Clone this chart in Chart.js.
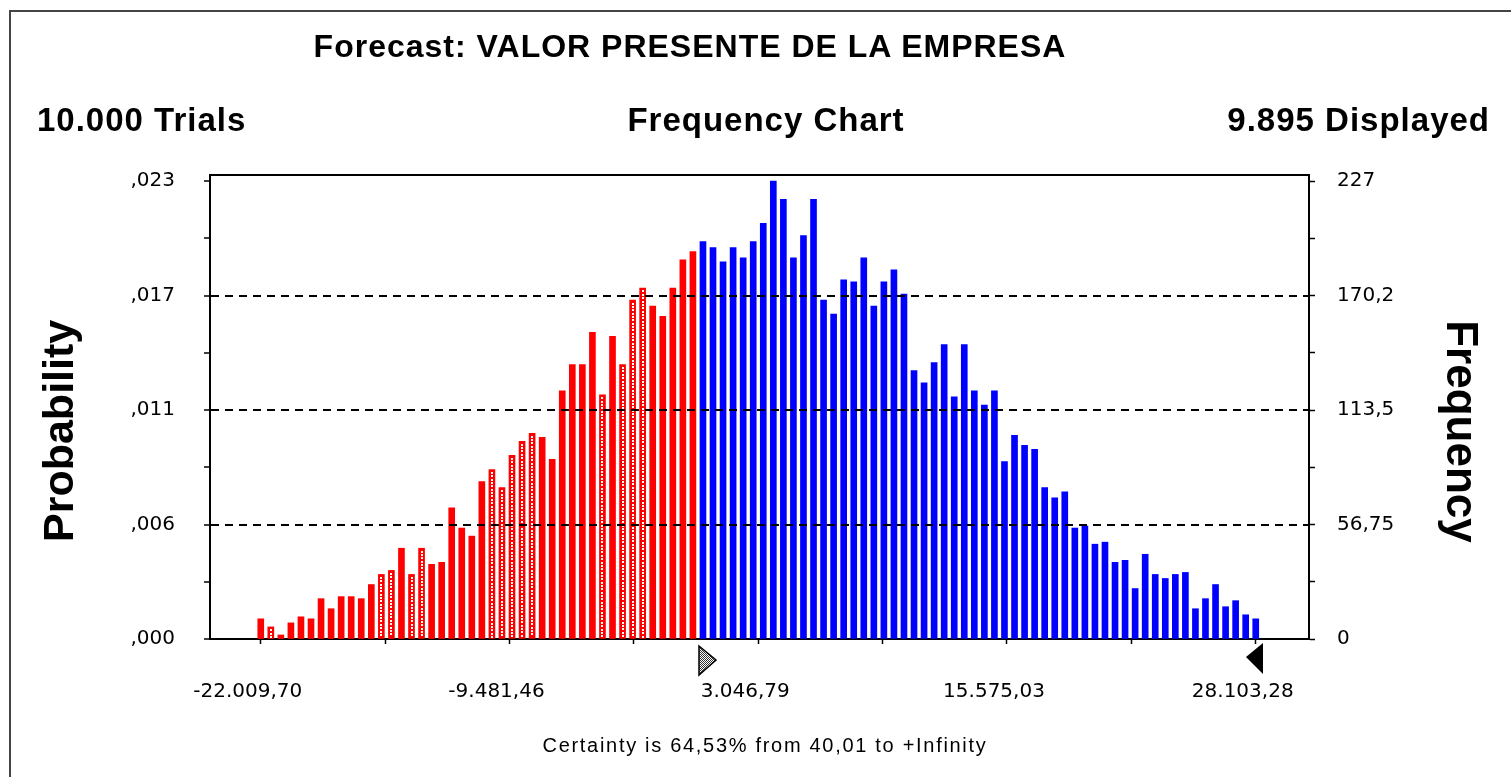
<!DOCTYPE html>
<html>
<head>
<meta charset="utf-8">
<title>Forecast: VALOR PRESENTE DE LA EMPRESA</title>
<script src="https://cdn.jsdelivr.net/npm/chart.js@4.4.1/dist/chart.umd.min.js"></script>
<style>
  body { margin: 0; background: #fff; width: 1511px; height: 777px; overflow: hidden; position: relative;
         font-family: "Liberation Sans", Arial, sans-serif; color: #000; }
  #frame { position: absolute; left: 9px; top: 10px; right: -10px; bottom: -10px;
           border-top: 2px solid #444; border-left: 2px solid #444; }
  .txt { position: absolute; white-space: nowrap; line-height: 1; font-weight: bold; font-size: 33px; letter-spacing: 1px; }
  #title { left: 690px; top: 46px; font-size: 32px; transform: translate(-50%, -50%); }
  #trials { left: 37px; top: 119px; transform: translateY(-50%); }
  #kind { left: 766px; top: 119px; transform: translate(-50%, -50%); }
  #shown { right: 21px; top: 119px; transform: translateY(-50%); }
  #cert { left: 765px; top: 745px; font-weight: normal; font-size: 20px; letter-spacing: 1.7px;
          transform: translate(-50%, -50%); }
  canvas { position: absolute; left: 0; top: 0; }
</style>
</head>
<body>
<div id="frame"></div>
<canvas id="chart" width="1511" height="777"></canvas>
<div class="txt" id="title">Forecast: VALOR PRESENTE DE LA EMPRESA</div>
<div class="txt" id="trials">10.000 Trials</div>
<div class="txt" id="kind">Frequency Chart</div>
<div class="txt" id="shown">9.895 Displayed</div>
<div class="txt" id="cert">Certainty is 64,53% from 40,01 to +Infinity</div>

<script>
// histogram: 100 cells, counts
const frequency = [
  10, 6, 2, 8, 11, 10, 20, 15, 21, 21,
  20, 27, 32, 34, 45, 32, 45, 37, 38, 65,
  55, 51, 78, 84, 75, 91, 98, 102, 100, 89,
  123, 136, 136, 152, 121, 150, 136, 168, 174, 165,
  160, 174, 188, 192, 197, 194, 187, 194, 189, 197,
  206, 227, 218, 189, 200, 218, 168, 161, 178, 177,
  189, 165, 177, 183, 171, 133, 127, 137, 146, 120,
  146, 123, 116, 123, 88, 101, 96, 94, 75, 70,
  73, 55, 56, 47, 48, 38, 39, 25, 42, 32,
  30, 32, 33, 15, 20, 27, 16, 19, 12, 10
];
// cells drawn with the stippled red fill
const stippled = [1, 12, 13, 15, 16, 23, 24, 25, 26, 27, 34, 36, 37, 38];

const xTickLabels = ['-22.009,70', '-9.481,46', '3.046,79', '15.575,03', '28.103,28'];
const probTickLabels = [',000', ',006', ',011', ',017', ',023'];
const freqTickLabels = ['0', '56,75', '113,5', '170,2', '227'];

const rangeStart = -22009.70;
const rangeEnd = 28103.28;
const certaintyFrom = 40.01;
const freqTop = 227;

const nCells = frequency.length;
const certCell = (certaintyFrom - rangeStart) / (rangeEnd - rangeStart) * (nCells - 1);
const RED = '#ff0000', BLUE = '#0000ff';

const yTickVals = [0, 1, 2, 3, 4, 5, 6, 7, 8].map(k => k * freqTop / 8);
const xTickVals = [0, 1, 2, 3, 4, 5, 6, 7, 8].map(k => k * (nCells - 1) / 8);

const tickFont = { family: 'DejaVu Sans', size: 20 };

const stipplePlugin = {
  id: 'stipple',
  afterDatasetsDraw(chart) {
    const ctx = chart.ctx;
    const meta = chart.getDatasetMeta(0);
    ctx.save();
    ctx.fillStyle = '#fff';
    stippled.forEach(i => {
      const bar = meta.data[i];
      const p = bar.getProps(['x', 'y', 'base'], true);
      for (let y = p.y + 2.5; y < p.base - 2; y += 3.35) {
        ctx.fillRect(Math.round(p.x - 1), Math.round(y), 2, 2);
      }
    });
    ctx.restore();
  }
};

const framePlugin = {
  id: 'frameTop',
  afterDraw(chart) {
    const { ctx, chartArea: a, scales } = chart;
    ctx.save();
    ctx.strokeStyle = '#000';
    ctx.lineWidth = 2;
    ctx.beginPath();
    ctx.moveTo(a.left, a.top);
    ctx.lineTo(a.right, a.top);
    ctx.stroke();

    // certainty grabbers under the axis
    const b = a.bottom;
    const xl = Math.round(scales.x.getPixelForValue(certCell));
    const pc = document.createElement('canvas');
    pc.width = 2; pc.height = 2;
    const pctx = pc.getContext('2d');
    pctx.fillStyle = '#fff'; pctx.fillRect(0, 0, 2, 2);
    pctx.fillStyle = '#333'; pctx.fillRect(0, 0, 1, 1); pctx.fillRect(1, 1, 1, 1);
    ctx.fillStyle = ctx.createPattern(pc, 'repeat');
    ctx.strokeStyle = '#000';
    ctx.lineWidth = 1.5;
    ctx.beginPath();
    ctx.moveTo(xl, b + 7);
    ctx.lineTo(xl, b + 36);
    ctx.lineTo(xl + 17, b + 21);
    ctx.closePath();
    ctx.fill();
    ctx.stroke();

    const xr = Math.round(scales.x.getPixelForValue(nCells - 0.5)) + 2;
    ctx.fillStyle = '#000';
    ctx.beginPath();
    ctx.moveTo(xr, b + 4);
    ctx.lineTo(xr, b + 35);
    ctx.lineTo(xr - 17, b + 18);
    ctx.closePath();
    ctx.fill();
    ctx.restore();
  }
};

new Chart(document.getElementById('chart'), {
  type: 'bar',
  data: {
    datasets: [{
      data: frequency.map((f, i) => ({ x: i, y: f })),
      backgroundColor: frequency.map((f, i) => i < certCell ? RED : BLUE),
      barThickness: 6,
      yAxisID: 'yFreq'
    }]
  },
  options: {
    responsive: false,
    animation: false,
    events: [],
    layout: { padding: { top: 175, left: 0, right: 0, bottom: 0 } },
    plugins: { legend: { display: false }, tooltip: { enabled: false } },
    scales: {
      x: {
        type: 'linear',
        offset: false,
        min: -5.05,
        max: 104.3,
        afterBuildTicks: s => { s.ticks = xTickVals.map(v => ({ value: v })); },
        afterFit: s => { s.height = 138; },
        ticks: {
          autoSkip: false,
          maxRotation: 0,
          padding: 36,
          labelOffset: -13,
          color: '#000',
          font: tickFont,
          callback: (v, i) => i % 2 === 0 ? xTickLabels[i / 2] : ''
        },
        grid: { offset: false, drawOnChartArea: false, tickLength: 5, tickColor: '#000', tickWidth: 1.5 },
        border: { color: '#000', width: 2 }
      },
      yProb: {
        position: 'left',
        min: 0,
        max: 230,
        afterBuildTicks: s => { s.ticks = yTickVals.map(v => ({ value: v })); },
        afterFit: s => { s.width = 210; },
        ticks: {
          autoSkip: false,
          padding: 29,
          color: '#000',
          font: tickFont,
          z: 1,
          callback: (v, i) => i % 2 === 0 ? probTickLabels[i / 2] : ''
        },
        grid: {
          color: c => (c.index === 2 || c.index === 4 || c.index === 6) ? '#000' : 'rgba(0,0,0,0)',
          lineWidth: 2,
          tickLength: 6,
          tickColor: '#000',
          tickWidth: 1.5,
          z: 1
        },
        border: { color: '#000', width: 2, dash: [8, 6], z: 1 },
        title: {
          display: true,
          text: 'Probability    ',
          color: '#000',
          font: { family: 'Liberation Sans', weight: 'bold', size: 43 },
          padding: { top: 35 }
        }
      },
      yFreq: {
        position: 'right',
        min: 0,
        max: 230,
        afterBuildTicks: s => { s.ticks = yTickVals.map(v => ({ value: v })); },
        afterFit: s => { s.width = 202; },
        ticks: {
          autoSkip: false,
          padding: 22,
          color: '#000',
          font: tickFont,
          callback: (v, i) => i % 2 === 0 ? freqTickLabels[i / 2] : ''
        },
        grid: { drawOnChartArea: false, tickLength: 6, tickColor: '#000', tickWidth: 1.5 },
        border: { color: '#000', width: 2 },
        title: {
          display: true,
          text: '    Frequency',
          color: '#000',
          font: { family: 'Liberation Sans', weight: 'bold', size: 44 },
          padding: { top: 25 }
        }
      }
    }
  },
  plugins: [stipplePlugin, framePlugin]
});
</script>
</body>
</html>
